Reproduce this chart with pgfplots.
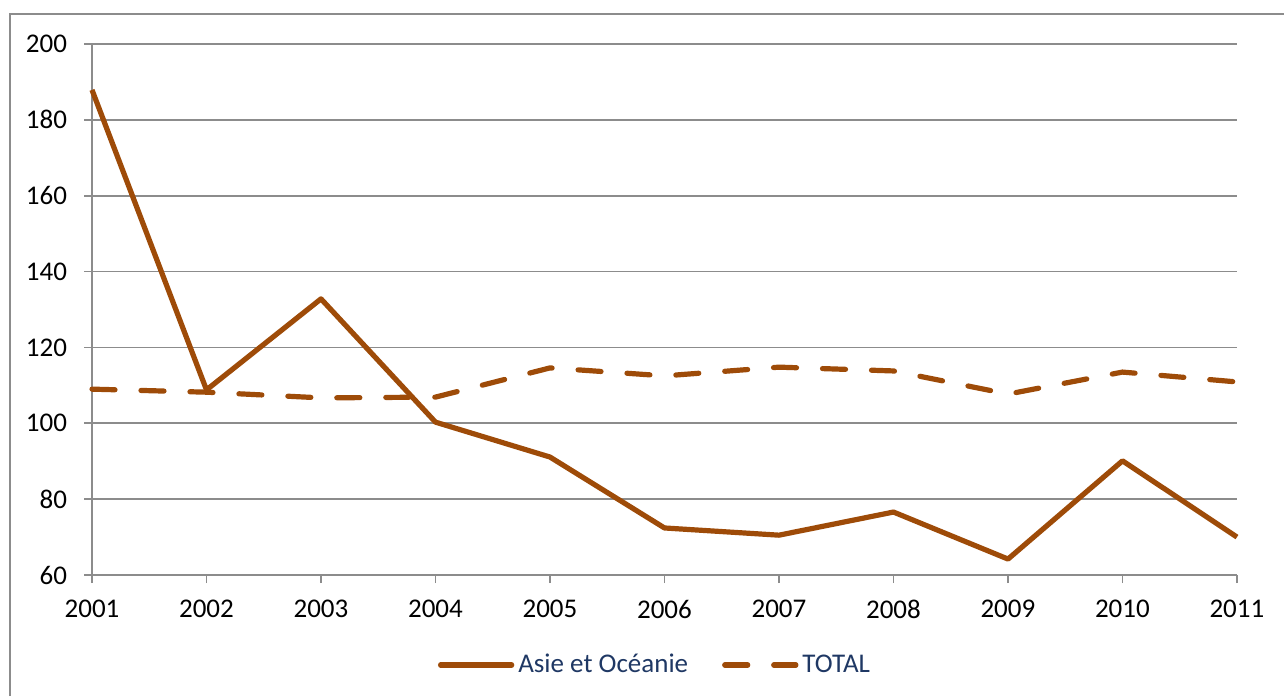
\documentclass[border=0pt]{standalone}
\usepackage{pgfplots}
\pgfplotsset{compat=1.18}
\usepackage{fontspec}
\setmainfont{Carlito}
\definecolor{brownline}{RGB}{158,75,8}
\definecolor{gridgray}{RGB}{140,140,140}
\definecolor{legblue}{RGB}{31,56,100}
\begin{document}
\begin{tikzpicture}
\useasboundingbox (0,0) rectangle (642pt,348pt);
\draw[gridgray, line width=1pt] (5pt,0) -- (5pt,341pt) -- (642pt,341pt);
\begin{axis}[
  at={(46pt,60.5pt)}, anchor=south west,
  scale only axis, width=572.5pt, height=265.5pt,
  xmin=2001, xmax=2011, ymin=60, ymax=200,
  xtick={2001,...,2011}, ytick={60,80,...,200},
  xticklabel style={/pgf/number format/1000 sep={}, yshift=-5pt},
  yticklabel style={xshift=-5pt},
  /pgf/number format/assume math mode=true,
  tick label style={font=\fontsize{13.5pt}{15pt}\selectfont, text=black},
  axis x line*=bottom, axis y line*=left,
  axis line style={gridgray, line width=0.8pt, -},
  tick style={gridgray, line width=0.8pt},
  tick align=outside, major tick length=4pt,
  ymajorgrids, grid style={gridgray, line width=0.8pt},
  xtick pos=bottom, ytick pos=left,
  clip=false,
  legend style={at={(282pt,-45pt)}, anchor=center, draw=none, fill=none,
    legend columns=2, font=\fontsize{13.5pt}{15pt}\selectfont\color{legblue},
    /tikz/every even column/.append style={column sep=15pt}},
  legend image code/.code={\draw[#1, line cap=round] (0cm,0cm) -- (1.25cm,0cm);},
]
\addplot[brownline, line width=2.6pt, line join=round] coordinates {
(2001,187.9) (2002,108.8) (2003,132.8) (2004,100.3) (2005,91.1) (2006,72.4)
(2007,70.5) (2008,76.6) (2009,64.2) (2010,90.1) (2011,70.0)};
\addlegendentry{Asie et Océanie}
\addplot[brownline, line width=2.6pt, line cap=round, dash pattern=on 11.5pt off 13pt] coordinates {
(2001,109.0) (2002,108.2) (2003,106.7) (2004,106.9) (2005,114.6) (2006,112.5)
(2007,114.8) (2008,113.8) (2009,107.7) (2010,113.5) (2011,110.9)};
\addlegendentry{TOTAL}
\end{axis}
\end{tikzpicture}
\end{document}
